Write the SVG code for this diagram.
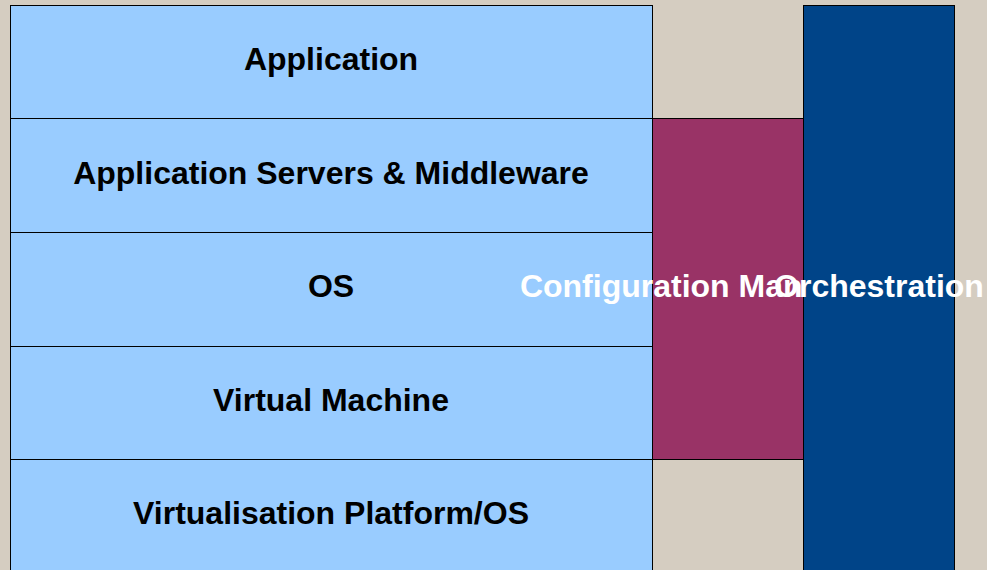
<svg xmlns="http://www.w3.org/2000/svg" width="987" height="570" viewBox="0 0 987 570">
<style>
.layer{fill:#99ccff;stroke:#000;stroke-width:1}
.lbl{font-family:"Liberation Sans",Arial,sans-serif;font-weight:bold;font-size:32px;text-anchor:middle}
.dark{fill:#000}
.light{fill:#fff}
</style>
<rect x="0" y="0" width="987" height="570" fill="#d5cdc1"/>
<g id="application">
<rect class="layer" x="10.5" y="5.5" width="642" height="113"/>
<text class="lbl dark" x="331" y="70">Application</text>
</g>
<g id="app-servers">
<rect class="layer" x="10.5" y="118.5" width="642" height="114"/>
<text class="lbl dark" x="331" y="184">Application Servers &amp; Middleware</text>
</g>
<g id="os">
<rect class="layer" x="10.5" y="232.5" width="642" height="114"/>
<text class="lbl dark" x="331" y="297">OS</text>
</g>
<g id="vm">
<rect class="layer" x="10.5" y="346.5" width="642" height="113"/>
<text class="lbl dark" x="331" y="411">Virtual Machine</text>
</g>
<g id="virt-platform">
<rect class="layer" x="10.5" y="459.5" width="642" height="120"/>
<text class="lbl dark" x="331" y="524">Virtualisation Platform/OS</text>
</g>
<g id="config-mgmt">
<rect x="652.5" y="118.5" width="151" height="341" fill="#993366" stroke="#000" stroke-width="1"/>
<text class="lbl light" x="727" y="297">Configuration Management</text>
</g>
<g id="orchestration">
<rect x="803.5" y="5.5" width="151" height="575" fill="#004488" stroke="#000" stroke-width="1"/>
<text class="lbl light" x="879" y="297">Orchestration</text>
</g>
<g id="connectors"></g>
</svg>
